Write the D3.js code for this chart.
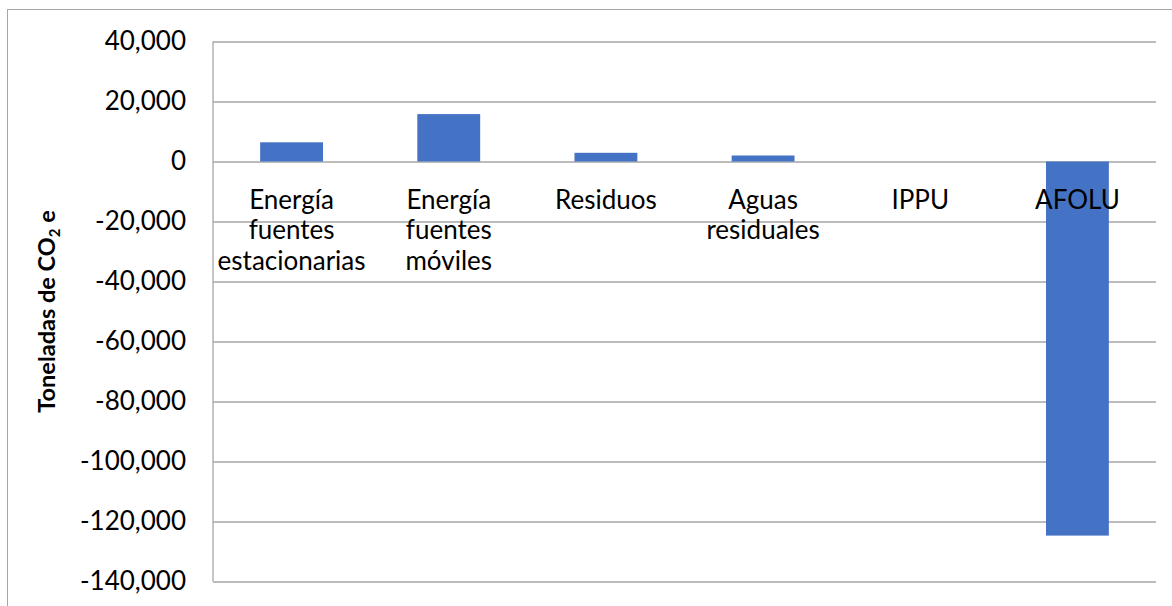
<!DOCTYPE html>
<html>
<head>
<meta charset="utf-8">
<script src="https://cdn.jsdelivr.net/npm/d3@7"></script>
<style>
  html, body { margin: 0; padding: 0; background: #fff; }
  svg { display: block; }
</style>
</head>
<body>
<svg id="chart" width="1172" height="606"></svg>
<script>
// Emission balance by sector (t CO2 e)
const categories = [
  "Energía fuentes estacionarias",
  "Energía fuentes móviles",
  "Residuos",
  "Aguas residuales",
  "IPPU",
  "AFOLU"
];
const values = [6400, 15800, 2900, 2000, 0, -124700];
const yTicks = [40000, 20000, 0, -20000, -40000, -60000, -80000, -100000, -120000, -140000];

const W = 1172, H = 606;
const margin = { left: 213, right: 16, top: 41.5, bottom: 24.5 };
const font = "Lato, 'Open Sans', sans-serif";
const gridColor = "#a6a6a6";
const barColor = "#4472C4";

// thousands separator with a plain hyphen for negatives
const fmt = d3.formatLocale({ decimal: ".", thousands: ",", grouping: [3], currency: ["", ""], minus: "-" }).format(",");

const svg = d3.select("#chart");

// outer chart frame
svg.append("rect")
  .attr("x", 7.5).attr("y", 9.5)
  .attr("width", W + 20).attr("height", H + 20)
  .attr("fill", "none").attr("stroke", gridColor).attr("stroke-width", 1);

const x = d3.scaleBand()
  .domain(categories)
  .range([margin.left, W - margin.right])
  .paddingInner(0.6)
  .paddingOuter(0.3);

const y = d3.scaleLinear()
  .domain([d3.min(yTicks), d3.max(yTicks)])
  .range([H - margin.bottom, margin.top]);

// horizontal gridlines + tick labels
const yAxis = d3.axisLeft(y)
  .tickValues(yTicks)
  .tickFormat(fmt)
  .tickSize(-(W - margin.right - margin.left))
  .tickPadding(27);

const gy = svg.append("g")
  .attr("transform", `translate(${margin.left},0)`)
  .call(yAxis);
gy.select(".domain").remove();
gy.selectAll(".tick line")
  .attr("stroke", gridColor).attr("stroke-width", 1.3);
gy.selectAll(".tick text")
  .attr("fill", "#000")
  .style("font-family", font)
  .style("font-size", "26px");

// vertical axis line
svg.append("line")
  .attr("x1", margin.left).attr("x2", margin.left)
  .attr("y1", y(d3.max(yTicks))).attr("y2", y(d3.min(yTicks)))
  .attr("stroke", gridColor).attr("stroke-width", 1.3);

// bars
svg.append("g").selectAll("rect")
  .data(categories.map((c, i) => ({ c, v: values[i] })))
  .join("rect")
  .attr("x", d => x(d.c))
  .attr("width", x.bandwidth())
  .attr("y", d => y(Math.max(0, d.v)))
  .attr("height", d => Math.abs(y(d.v) - y(0)))
  .attr("fill", barColor);

// category labels below the zero line, one word per line
const labels = svg.append("g").selectAll("text")
  .data(categories)
  .join("text")
  .attr("x", d => x(d) + x.bandwidth() / 2)
  .attr("y", y(0) + 47)
  .attr("text-anchor", "middle")
  .attr("fill", "#000")
  .style("font-family", font)
  .style("font-size", "26px");
labels.each(function (d) {
  const t = d3.select(this);
  d.split(" ").forEach((w, i) => {
    t.append("tspan")
      .attr("x", x(d) + x.bandwidth() / 2)
      .attr("dy", i === 0 ? 0 : 30.5)
      .text(w);
  });
});

// y-axis title
const title = svg.append("text")
  .attr("transform", `translate(55,${(y(d3.max(yTicks)) + y(d3.min(yTicks))) / 2}) rotate(-90)`)
  .attr("text-anchor", "middle")
  .attr("fill", "#000")
  .style("font-family", font)
  .style("font-size", "23.5px")
  .style("font-weight", "bold");
title.append("tspan").text("Toneladas de CO");
title.append("tspan").text("2").style("font-size", "15px").attr("dy", 5);
title.append("tspan").text(" e").attr("dy", -5);
</script>
</body>
</html>
